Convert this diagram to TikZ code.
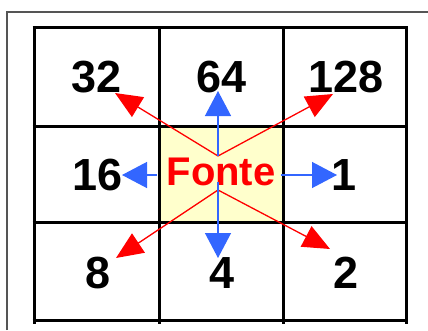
\documentclass[tikz,border=0pt]{standalone}
\usepackage{fontspec}
\setmainfont{Liberation Sans}
\usetikzlibrary{arrows.meta}
\definecolor{cellfill}{HTML}{FFFFCC}
\definecolor{arrblue}{HTML}{3366FF}
\definecolor{arrred}{HTML}{FF0000}
\definecolor{framegray}{HTML}{555555}
\begin{document}
\begin{tikzpicture}[x=1pt,y=-1pt,
  num/.style={font=\fontsize{45}{45}\selectfont\bfseries, inner sep=0pt, text=black},
  src/.style={font=\fontsize{40}{40}\selectfont\bfseries, inner sep=0pt, text=arrred},
  gridline/.style={line width=3pt, black},
  redarr/.style={arrred, line width=1.3pt, -{Triangle[length=27pt,width=23pt]}},
  bluearr/.style={arrblue, line width=1.3pt, -{Triangle[length=25pt,width=26pt]}}]
\useasboundingbox (0,0) rectangle (428,330);
% outer frame
\draw[framegray, line width=1.5pt] (7,330) -- (7,12) -- (428,12);
% center fill
\fill[cellfill] (159,126) rectangle (283,222);
% grid
\foreach \x in {34,159,283,406} \draw[gridline] (\x,27) -- (\x,324);
\foreach \y in {27,126,222,320} \draw[gridline] (32.5,\y) -- (407.5,\y);
% labels
\node[num] (n32) at (97,77) {32};
\node[num] (n64) at (222,77) {64};
\node[num] (n128) at (346,77) {128};
\node[num] (n16) at (98,175) {16};
\node[num] (n1) at (344,175) {1};
\node[num] (n8) at (98,273) {8};
\node[num] (n4) at (222,273) {4};
\node[num] (n2) at (346,273) {2};
\node[src] (fonte) at (221,172) {Fonte};
% arrow anchors
\coordinate (ct) at (218,156);
\coordinate (cb) at (218,190);
\coordinate (cbb) at (218,182);
\coordinate (cl) at (157,175);
\coordinate (cr) at (281,175);
\coordinate (t32) at (115,93);
\coordinate (t128) at (333,94);
\coordinate (t64) at (218,91);
\coordinate (t16) at (122,175);
\coordinate (t1) at (337,175);
\coordinate (t8) at (116,258);
\coordinate (t4) at (218,258);
\coordinate (t2) at (330,249);
% arrows
\draw[redarr] (ct) -- (t32);
\draw[redarr] (ct) -- (t128);
\draw[redarr] (cb) -- (t8);
\draw[redarr] (cb) -- (t2);
\draw[bluearr] (ct) -- (t64);
\draw[bluearr] (cbb) -- (t4);
\draw[bluearr] (cl) -- (t16);
\draw[bluearr] (cr) -- (t1);
\end{tikzpicture}
\end{document}
